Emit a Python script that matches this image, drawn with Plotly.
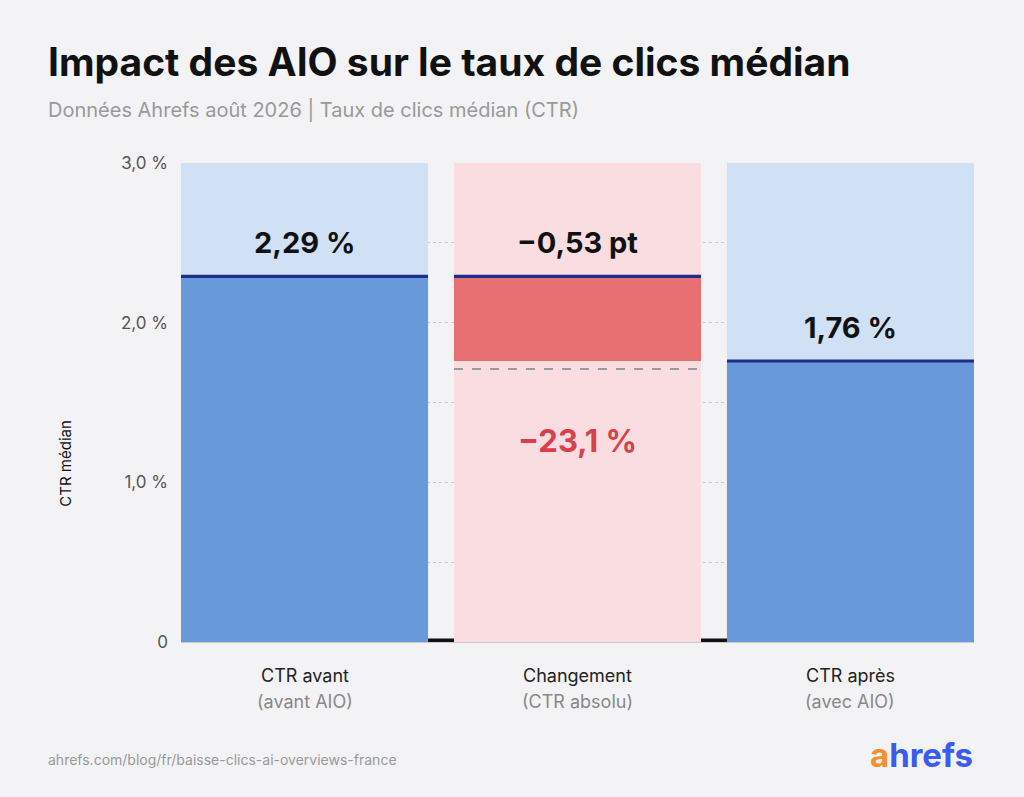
import plotly.graph_objects as go

# --- data ---------------------------------------------------------------
CATEGORIES = ["CTR avant", "Changement", "CTR après"]
SUBLABELS = ["(avant AIO)", "(CTR absolu)", "(avec AIO)"]
CTR_BEFORE = 2.29
CTR_AFTER = 1.76
CHANGE_PT = CTR_AFTER - CTR_BEFORE          # -0.53
DASH_LEVEL = 1.71                           # dashed reference under the red block
Y_MAX = 3.0
LABELS = ["2,29 %", "\u22120,53 pt", "1,76 %"]
PCT_LABEL = "\u221223,1 %"
Y_TICKS = [0, 0.5, 1.0, 1.5, 2.0, 2.5, 3.0]
Y_TICKTEXT = ["0", "", "1,0 %", "", "2,0 %", "", "3,0 %"]

BG = "#f3f3f5"
LIGHT_BLUE = "#d0e1f5"
BLUE = "#6899db"
NAVY = "#1e2e8c"
PINK = "#fadde0"
RED = "#e87073"
RED_TXT = "#d8404a"
FONT = "Inter"

W = 0.905
xs = [0, 1, 2]

# plot area in pixels
L, R, T, B = 181, 974, 163, 642


def paper_xy(px, py):
    return (px - L) / (R - L), (B - py) / (B - T)


fig = go.Figure()

# full-height background columns
fig.add_trace(go.Bar(
    x=xs, y=[Y_MAX] * 3, width=W,
    marker=dict(color=[LIGHT_BLUE, PINK, LIGHT_BLUE], line=dict(width=0)),
    hoverinfo="skip", showlegend=False,
))
# value columns
fig.add_trace(go.Bar(
    x=[xs[0], xs[2]], y=[CTR_BEFORE, CTR_AFTER], width=W,
    marker=dict(color=BLUE, line=dict(width=0)),
    hoverinfo="skip", showlegend=False,
))
# the drop
fig.add_trace(go.Bar(
    x=[xs[1]], y=[-CHANGE_PT], base=[CTR_AFTER], width=W,
    marker=dict(color=RED, line=dict(width=0)),
    hoverinfo="skip", showlegend=False,
))
# navy value lines
thick = 0.02
fig.add_trace(go.Bar(
    x=xs, y=[thick] * 3, base=[v - thick / 2 for v in (CTR_BEFORE, CTR_BEFORE, CTR_AFTER)],
    width=W, marker=dict(color=NAVY, line=dict(width=0)),
    hoverinfo="skip", showlegend=False,
))
# dashed reference
fig.add_trace(go.Scatter(
    x=[xs[1] - W / 2, xs[1] + W / 2], y=[DASH_LEVEL] * 2, mode="lines",
    line=dict(color="#9a9aa5", width=2, dash="dash"),
    hoverinfo="skip", showlegend=False,
))

# black baseline, only visible in the gaps between columns
fig.add_shape(type="rect", xref="paper", x0=0, x1=1, yref="y", y0=0, y1=0.022,
              fillcolor="#111", line=dict(width=0), layer="below")

# value labels
for x, v, txt in zip(xs, [CTR_BEFORE, CTR_BEFORE, CTR_AFTER], LABELS):
    fig.add_annotation(x=x, y=v, text=f"<b>{txt}</b>", showarrow=False,
                       yanchor="bottom", yshift=14,
                       font=dict(family=FONT, size=29, color="#111"))
fig.add_annotation(x=xs[1], y=DASH_LEVEL, text=f"<b>{PCT_LABEL}</b>", showarrow=False,
                   yanchor="middle", yshift=-72,
                   font=dict(family=FONT, size=31, color=RED_TXT))

# category labels
for x, cat, sub in zip(xs, CATEGORIES, SUBLABELS):
    fig.add_annotation(x=x, y=0, yref="paper", text=cat, showarrow=False,
                       yanchor="middle", yshift=-33,
                       font=dict(family=FONT, size=18, color="#222"))
    fig.add_annotation(x=x, y=0, yref="paper", text=sub, showarrow=False,
                       yanchor="middle", yshift=-59,
                       font=dict(family=FONT, size=18, color="#888"))

# y axis title
fig.add_annotation(x=0, xref="paper", y=1.12, yref="y", xshift=-115,
                   text="CTR médian", textangle=-90, showarrow=False,
                   font=dict(family=FONT, size=15, color="#111"))
fig.layout.annotations[-1].xshift = -127

# title, subtitle, footer
tx, ty = paper_xy(46, 62)
fig.add_annotation(xref="paper", yref="paper", x=tx, y=ty,
                   text="<b>Impact des AIO sur le taux de clics médian</b>",
                   showarrow=False, xanchor="left", yanchor="middle",
                   font=dict(family=FONT, size=39, color="#111"))
sx, sy = paper_xy(46, 110)
fig.add_annotation(xref="paper", yref="paper", x=sx, y=sy,
                   text="Données Ahrefs août 2026 | Taux de clics médian (CTR)",
                   showarrow=False, xanchor="left", yanchor="middle",
                   font=dict(family=FONT, size=20, color="#999"))
fx, fy = paper_xy(46, 759)
fig.add_annotation(xref="paper", yref="paper", x=fx, y=fy,
                   text="ahrefs.com/blog/fr/baisse-clics-ai-overviews-france",
                   showarrow=False, xanchor="left", yanchor="middle",
                   font=dict(family=FONT, size=14, color="#999"))
lx, ly = paper_xy(975, 755)
fig.add_annotation(xref="paper", yref="paper", x=lx, y=ly,
                   text="<b><span style='color:#f5902f'>a</span>hrefs</b>",
                   showarrow=False, xanchor="right", yanchor="middle",
                   font=dict(family=FONT, size=33, color="#3b5bef"))

fig.update_layout(
    width=1024, height=797,
    margin=dict(l=L, r=1024 - R, t=T, b=797 - B),
    paper_bgcolor=BG, plot_bgcolor=BG,
    barmode="overlay", showlegend=False,
    font=dict(family=FONT),
)
fig.update_xaxes(
    range=[-W / 2, 2 + W / 2], showticklabels=False, showgrid=False,
    zeroline=False, showline=True, linecolor="#c8c8cc", linewidth=1,
    layer="below traces", fixedrange=True,
)
fig.update_yaxes(
    range=[0, Y_MAX], tickvals=Y_TICKS, ticktext=Y_TICKTEXT,
    tickfont=dict(family=FONT, size=17, color="#555"),
    showgrid=True, gridcolor="#c8c8cc", griddash="dot", gridwidth=1,
    zeroline=False, ticks="", ticklabelstandoff=12, fixedrange=True,
)

fig.write_html("out.html", config={"displayModeBar": False},
               post_script="document.body.style.margin='0';")
